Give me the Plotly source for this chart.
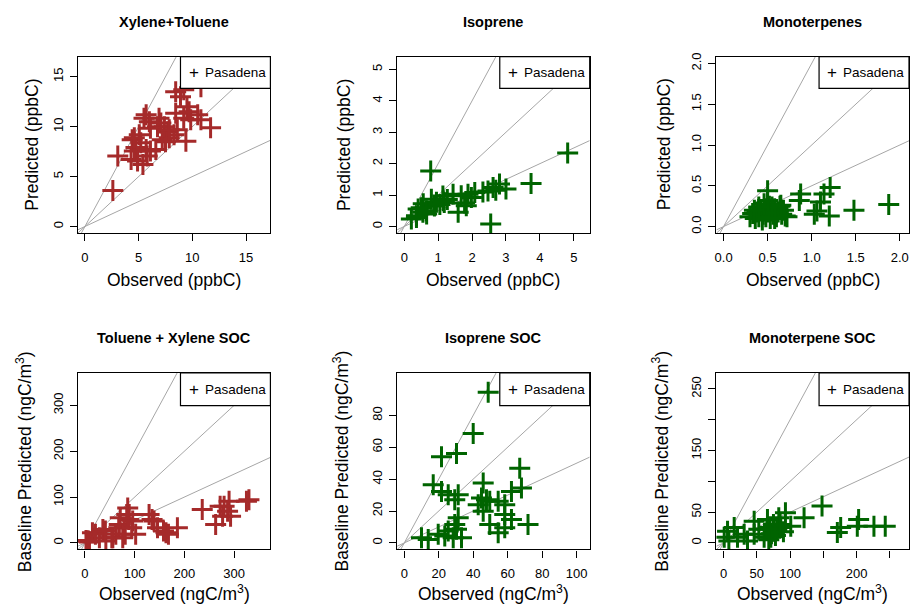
import plotly.graph_objects as go

FONT = "Liberation Sans, Arial, sans-serif"
W, H = 911, 604

# ---------------- data ----------------
obs_xt = [2.6, 3.06, 4.3, 4.75, 4.4, 5.2, 5.7, 6.1, 6.6, 4.9, 5.8, 5.5, 6.0, 6.9, 7.07,
          6.76, 7.7, 7.85, 8.3, 8.6, 7.2, 7.5, 8.45, 9.5, 9.2, 9.85, 10.5, 10.8, 11.7, 9.4,
          8.45, 9.2, 10.8, 8.9, 5.06, 4.6, 7.4, 6.1, 9.7, 7.85, 5.7, 4.6, 5.4]
pred_xt = [3.6, 7.05, 6.7, 7.9, 8.7, 8.4, 7.7, 7.55, 7.7, 6.55, 7.05, 10.85, 10.5, 10.85, 10.36,
           10.0, 9.5, 8.9, 9.2, 9.7, 8.7, 8.5, 11.35, 12.0, 10.85, 10.7, 11.2, 10.7, 9.9, 8.55,
           13.5, 13.7, 14.0, 13.0, 9.2, 7.55, 10.0, 9.85, 11.5, 9.7, 11.2, 8.9, 6.2]

obs_iso = [0.78, 4.82, 3.74, 3.0, 2.62, 2.81, 2.47, 2.32, 2.55, 1.98, 1.83, 1.44, 1.78, 1.68,
           1.59, 1.14, 1.18, 0.89, 0.56, 0.41, 0.36, 0.21, 0.66, 0.95, 1.27, 2.08, 1.88, 0.55,
           0.80, 0.36, 0.5, 0.65, 1.05, 2.7, 1.15]
pred_iso = [1.77, 2.34, 1.37, 1.19, 1.24, 1.35, 1.13, 1.1, 0.08, 0.92, 0.66, 1.03, 0.75, 0.98,
            0.45, 0.97, 0.76, 0.65, 0.72, 0.56, 0.34, 0.24, 0.4, 0.77, 0.86, 1.08, 1.03, 0.45,
            0.87, 0.29, 0.6, 0.5, 0.7, 1.15, 0.82]

obs_mt = [1.875, 1.48, 1.21, 1.14, 1.10, 1.06, 1.20, 1.03, 0.875, 0.86, 0.50, 0.30, 0.33, 0.36,
          0.38, 0.40, 0.42, 0.44, 0.45, 0.47, 0.48, 0.50, 0.52, 0.53, 0.55, 0.56, 0.58, 0.60,
          0.62, 0.64, 0.66, 0.68, 0.70, 0.72, 0.46, 0.50, 0.55, 0.60, 0.40, 0.35, 0.58, 0.65]
pred_mt = [0.27, 0.20, 0.48, 0.40, 0.30, 0.19, 0.13, 0.15, 0.40, 0.32, 0.44, 0.12, 0.16, 0.10,
           0.18, 0.12, 0.20, 0.08, 0.15, 0.22, 0.12, 0.18, 0.25, 0.10, 0.20, 0.15, 0.22, 0.12,
           0.18, 0.25, 0.15, 0.20, 0.13, 0.12, 0.28, 0.32, 0.24, 0.17, 0.24, 0.20, 0.10, 0.26]

obs_txs = [330, 290, 280, 287, 277, 293, 263, 236, 186, 163, 146, 139, 129, 86, 89, 96, 102,
           79, 69, 76, 62, 36, 29, 15, 5, 42, 56, 9, 2, 84, 88, 135, 168, 158, 272, 325, 68,
           81, 94, 54, 21, 7, 41, 71]
pred_txs = [94, 91, 80, 69, 58, 58, 40, 73, 33, 22, 33, 48, 62, 76, 62, 48, 19,
            33, 40, 11, 19, 29, 11, 22, 4, 4, 11, 2, 5, 62, 51, 51, 19, 26, 80, 91, 33,
            19, 33, 11, 19, 4, 26, 55]

obs_isoc = [48.7, 40, 21.6, 30.3, 16.8, 21.6, 25.5, 31.3, 29.3, 45.8, 44.8, 47.7, 49.6, 54.5,
            58.3, 67, 68, 62.2, 42.9, 45.8, 58.3, 62.2, 71.8, 49.6, 58.3, 54.5, 31.3, 29.3,
            30.3, 25.5, 33.2, 19.7, 10, 13.9, 28.4, 23.5]
pred_isoc = [94.5, 68.6, 54, 56, 36.5, 32.3, 30.2, 30.2, 27.1, 37.5, 28.2, 27.1, 26.1, 26.1,
             24, 46.8, 34.4, 32.3, 24, 19.9, 17.8, 14.7, 11.6, 11.6, 9.5, 6.4, 15.7, 11.6,
             8.5, 7.5, 3.3, 5.4, 3.3, 2.2, 3.3, 4.3]

obs_mtc = [243, 226, 203, 201, 176, 171, 148, 121, 93, 101, 83, 66, 46, 46, 76, 71, 86, 31,
           21, 6, 1, 8, 36, 16, 53, 61, 70, 75, 80, 72, 78, 65, 85, 90, 68]
pred_mtc = [27, 27, 38, 27, 25, 17, 60, 41, 49, 27, 41, 38, 35, 14, 19, 9, 25, 14,
            9, 19, 9, 3, 3, 25, 22, 9, 25, 30, 20, 15, 12, 22, 30, 18, 5]

titles = ["Xylene+Toluene", "Isoprene", "Monoterpenes",
          "Toluene + Xylene SOC", "Isoprene SOC", "Monoterpene SOC"]
xlabels = ["Observed (ppbC)"] * 3 + ["Observed (ngC/m<sup>3</sup>)"] * 3
ylabels = ["Predicted (ppbC)"] * 3 + ["Baseline Predicted (ngC/m<sup>3</sup>)"] * 3
legend_label = "Pasadena"
ratio_slopes = [2.0, 1.0, 0.5]

BROWN = "#A52A2A"
GREEN = "#006400"

panels = [
    dict(x=obs_xt, y=pred_xt, color=BROWN, xr=[-0.66, 17.27], yr=[-0.66, 17.02],
         xt=[0, 5, 10, 15], xtt=["0", "5", "10", "15"], xm=[],
         yt=[0, 5, 10, 15], ytt=["0", "5", "10", "15"], ym=[]),
    dict(x=obs_iso, y=pred_iso, color=GREEN, xr=[-0.21, 5.47], yr=[-0.21, 5.41],
         xt=[0, 1, 2, 3, 4, 5], xtt=["0", "1", "2", "3", "4", "5"], xm=[],
         yt=[0, 1, 2, 3, 4, 5], ytt=["0", "1", "2", "3", "4", "5"], ym=[]),
    dict(x=obs_mt, y=pred_mt, color=GREEN, xr=[-0.081, 2.105], yr=[-0.08, 2.085],
         xt=[0, 0.5, 1, 1.5, 2], xtt=["0.0", "0.5", "1.0", "1.5", "2.0"], xm=[],
         yt=[0, 0.5, 1, 1.5, 2], ytt=["0.0", "0.5", "1.0", "1.5", "2.0"], ym=[]),
    dict(x=obs_txs, y=pred_txs, color=BROWN, xr=[-14.4, 373.2], yr=[-14.3, 370.9],
         xt=[0, 100, 200, 300], xtt=["0", "100", "200", "300"], xm=[],
         yt=[0, 100, 200, 300], ytt=["0", "100", "200", "300"], ym=[]),
    dict(x=obs_isoc, y=pred_isoc, color=GREEN, xr=[-4.14, 107.6], yr=[-4.1, 106.6],
         xt=[0, 20, 40, 60, 80, 100], xtt=["0", "20", "40", "60", "80", "100"], xm=[],
         yt=[0, 20, 40, 60, 80], ytt=["0", "20", "40", "60", "80"], ym=[]),
    dict(x=obs_mtc, y=pred_mtc, color=GREEN, xr=[-10.7, 278.7], yr=[-10.6, 276],
         xt=[0, 50, 100, 200], xtt=["0", "50", "100", "200"], xm=[150, 250],
         yt=[0, 50, 150, 250], ytt=["0", "50", "150", "250"], ym=[100, 200]),
]

# ---------------- layout geometry (pixels) ----------------
box_x = [(76, 269), (396, 589), (716, 909)] * 2
box_y = [(53, 231)] * 3 + [(372, 550)] * 3
title_y = [18] * 3 + [337] * 3
xlab_y = [278] * 3 + [594] * 3
ylab_x = [30, 343, 663, 22, 340, 660]


def px_x(p):
    return p / W


def px_y(p):
    return 1 - p / H


fig = go.Figure()
layout = dict(width=W, height=H, margin=dict(l=0, r=0, t=0, b=0),
              paper_bgcolor="white", plot_bgcolor="white", showlegend=False,
              font=dict(family=FONT, color="black"))
annotations = []
shapes = []

for i, p in enumerate(panels):
    n = i + 1
    xa = "x" if n == 1 else f"x{n}"
    ya = "y" if n == 1 else f"y{n}"
    xkey = "xaxis" if n == 1 else f"xaxis{n}"
    ykey = "yaxis" if n == 1 else f"yaxis{n}"
    bx0, bx1 = box_x[i]
    by0, by1 = box_y[i]
    common = dict(showline=True, mirror=True, linecolor="black", linewidth=1.2,
                  ticks="outside", ticklen=7, tickwidth=1, tickcolor="black",
                  showgrid=False, zeroline=False, fixedrange=True,
                  tickfont=dict(family=FONT, size=13, color="black"))
    xminor = dict(tickmode="array", tickvals=p["xm"], ticks="outside", ticklen=7,
                  tickwidth=1, tickcolor="black", showgrid=False) if p["xm"] else None
    yminor = dict(tickmode="array", tickvals=p["ym"], ticks="outside", ticklen=7,
                  tickwidth=1, tickcolor="black", showgrid=False) if p["ym"] else None
    layout[xkey] = dict(common, domain=[px_x(bx0), px_x(bx1)], range=p["xr"], anchor=ya,
                        tickmode="array", tickvals=p["xt"], ticktext=p["xtt"],
                        ticklabelstandoff=5)
    layout[ykey] = dict(common, domain=[px_y(by1), px_y(by0)], range=p["yr"], anchor=xa,
                        tickmode="array", tickvals=p["yt"], ticktext=p["ytt"],
                        tickangle=-90, ticklabelstandoff=2)
    if xminor:
        layout[xkey]["minor"] = xminor
    if yminor:
        layout[ykey]["minor"] = yminor

    # reference ratio lines 2:1, 1:1, 1:2
    for s in ratio_slopes:
        fig.add_trace(go.Scatter(x=[p["xr"][0], p["xr"][1]],
                                 y=[s * p["xr"][0], s * p["xr"][1]],
                                 mode="lines", line=dict(color="#A6A6A6", width=1),
                                 xaxis=xa, yaxis=ya, hoverinfo="skip"))
    fig.add_trace(go.Scatter(x=p["x"], y=p["y"], mode="markers", name=legend_label,
                             marker=dict(symbol="cross-thin", size=15,
                                         line=dict(color=p["color"], width=3)),
                             xaxis=xa, yaxis=ya))

    # legend box
    lh = 32 if i < 3 else 33
    shapes.append(dict(type="rect", xref=f"{xa} domain", yref=f"{ya} domain",
                       x0=0.533, x1=1.0, y0=1 - lh / (by1 - by0), y1=1.0,
                       fillcolor="white", line=dict(color="black", width=1.2),
                       layer="above"))
    ly = 1 - (lh / 2) / (by1 - by0)
    annotations.append(dict(xref=f"{xa} domain", yref=f"{ya} domain",
                            x=(192 - 76) / 193, y=ly, text="+", showarrow=False,
                            font=dict(family=FONT, size=17, color="black"),
                            xanchor="center", yanchor="middle"))
    annotations.append(dict(xref=f"{xa} domain", yref=f"{ya} domain",
                            x=(201 - 76) / 193, y=ly, text=legend_label, showarrow=False,
                            font=dict(family=FONT, size=13.5, color="black"),
                            xanchor="left", yanchor="middle"))

    cx = (bx0 + bx1) / 2
    annotations.append(dict(xref="paper", yref="paper", x=px_x(cx), y=px_y(title_y[i]),
                            text=f"<b>{titles[i]}</b>", showarrow=False,
                            font=dict(family=FONT, size=14.5, color="black"),
                            xanchor="center", yanchor="middle"))
    annotations.append(dict(xref="paper", yref="paper", x=px_x(cx), y=px_y(xlab_y[i]),
                            text=xlabels[i], showarrow=False,
                            font=dict(family=FONT, size=17.5, color="black"),
                            xanchor="center", yanchor="middle"))
    annotations.append(dict(xref="paper", yref="paper", x=px_x(ylab_x[i]),
                            y=px_y((by0 + by1) / 2), text=ylabels[i], showarrow=False,
                            textangle=-90,
                            font=dict(family=FONT, size=17.5, color="black"),
                            xanchor="center", yanchor="middle"))

layout["annotations"] = annotations
layout["shapes"] = shapes
fig.update_layout(**layout)
fig.write_html("out.html", config={"displayModeBar": False},
               post_script="document.body.style.margin='0';document.body.style.overflow='hidden';")
